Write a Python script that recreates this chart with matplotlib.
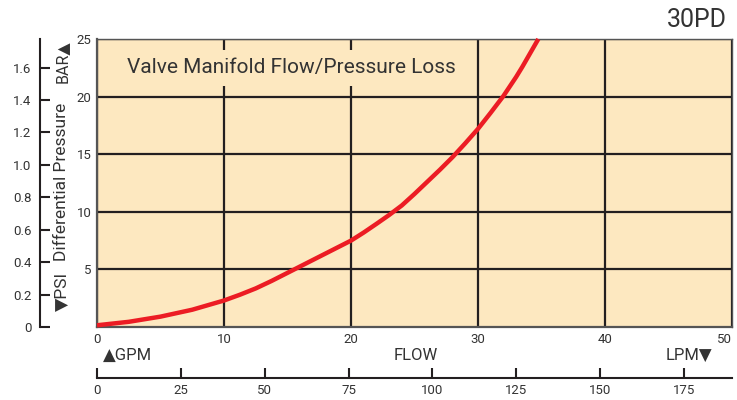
import matplotlib.pyplot as plt
import numpy as np

plt.rcParams['font.family'] = ['Roboto', 'DejaVu Sans']

# curve: flow (GPM) vs differential pressure (PSI)
gpm = [0, 2.5, 5, 7.5, 10, 11.25, 12.5, 13.75, 15, 17.5, 20, 21, 22, 23, 24, 25, 26, 27,
       28, 29, 30, 31, 32, 33, 33.5, 34.75]
psi = [0.15, 0.45, 0.9, 1.5, 2.3, 2.8, 3.35, 4.0, 4.7, 6.1, 7.5, 8.2, 8.95, 9.72, 10.55, 11.55,
       12.6, 13.65, 14.75, 15.95, 17.2, 18.6, 20.05, 21.7, 22.6, 25.0]

gpm_ticks = [0, 10, 20, 30, 40, 50]
psi_ticks = [5, 10, 15, 20, 25]
bar_ticks = [0, 0.2, 0.4, 0.6, 0.8, 1.0, 1.2, 1.4, 1.6]
bar_labels = ['0', '0.2', '0.4', '0.6', '0.8', '1.0', '1.2', '1.4', '1.6']
lpm_ticks = [0, 25, 50, 75, 100, 125, 150, 175]

INK = '#231f20'
BG = '#fde8c0'
RED = '#ec1c24'
TXT = '#333333'

fig = plt.figure(figsize=(7.37, 4.0), dpi=100, facecolor='white')
L, B, W, H = 97/737, 73/400, 635/737, 288/400

ax = fig.add_axes([L, B, W, H])
ax.set_facecolor(BG)
ax.set_xlim(0, 50)
ax.set_ylim(0, 25)
ax.set_xticks(gpm_ticks)
ax.set_yticks(psi_ticks)
ax.tick_params(length=0, labelsize=9.5, colors=TXT, pad=4)
ax.get_xticklabels()[-1].set_ha('right')   # keep "50" inside the picture
ax.grid(True, color=INK, lw=1.6)
ax.set_axisbelow(True)
for s in ax.spines.values():
    s.set_color('#555555'); s.set_lw(1.0)
ax.spines['left'].set_lw(1.6); ax.spines['bottom'].set_lw(1.6)
ax.plot(gpm, psi, color=RED, lw=3.2, solid_capstyle='butt', solid_joinstyle='round', zorder=4, clip_on=False)
ax.text(2.35, 22.5, 'Valve Manifold Flow/Pressure Loss', fontsize=15, color=TXT,
        va='center', ha='left', zorder=3,
        bbox=dict(facecolor=BG, edgecolor='none', pad=6))

# outer BAR scale
axb = fig.add_axes([40/737, B, 0.001, H])
axb.set_ylim(0, 1.776)
axb.set_xticks([])
axb.set_yticks(bar_ticks)
axb.set_yticklabels(bar_labels)
axb.tick_params(axis='y', direction='in', length=7.5, width=1.5, color=INK,
                labelsize=9.5, labelcolor=TXT, pad=6)
for k in ('top', 'right', 'bottom'):
    axb.spines[k].set_visible(False)
axb.spines['left'].set_color(INK); axb.spines['left'].set_lw(1.5)
axb.patch.set_alpha(0)

fig.text(62/737, 1 - 62/400, 'BAR\u25b2', rotation=90, ha='center', va='center', fontsize=11.5, color=TXT)
fig.text(62/737, 1 - 182/400, 'Differential Pressure', rotation=90, ha='center', va='center', fontsize=12.5, color=TXT)
fig.text(62/737, 1 - 291/400, '\u25bcPSI', rotation=90, ha='center', va='center', fontsize=12.5, color=TXT)

# lower LPM scale
axl = fig.add_axes([L, 22/400, W, 0.001])
axl.set_xlim(0, 50 * 3.7854)
axl.set_yticks([])
axl.set_xticks(lpm_ticks)
axl.tick_params(axis='x', direction='in', length=7, width=1.5, color=INK,
                labelsize=9.5, labelcolor=TXT, pad=4)
for k in ('top', 'right', 'left'):
    axl.spines[k].set_visible(False)
axl.spines['bottom'].set_color(INK); axl.spines['bottom'].set_lw(1.5)
axl.patch.set_alpha(0)

fig.text(103/737, 1 - 355/400, '\u25b2GPM', ha='left', va='center', fontsize=12, color=TXT)
fig.text(416/737, 1 - 355/400, 'FLOW', ha='center', va='center', fontsize=12, color=TXT)
fig.text(712/737, 1 - 355/400, 'LPM\u25bc', ha='right', va='center', fontsize=12, color=TXT)

fig.text(727/737, 1 - 20/400, '30PD', ha='right', va='center', fontsize=18, color=TXT)

fig.savefig('out.png', dpi=100, facecolor='white')
